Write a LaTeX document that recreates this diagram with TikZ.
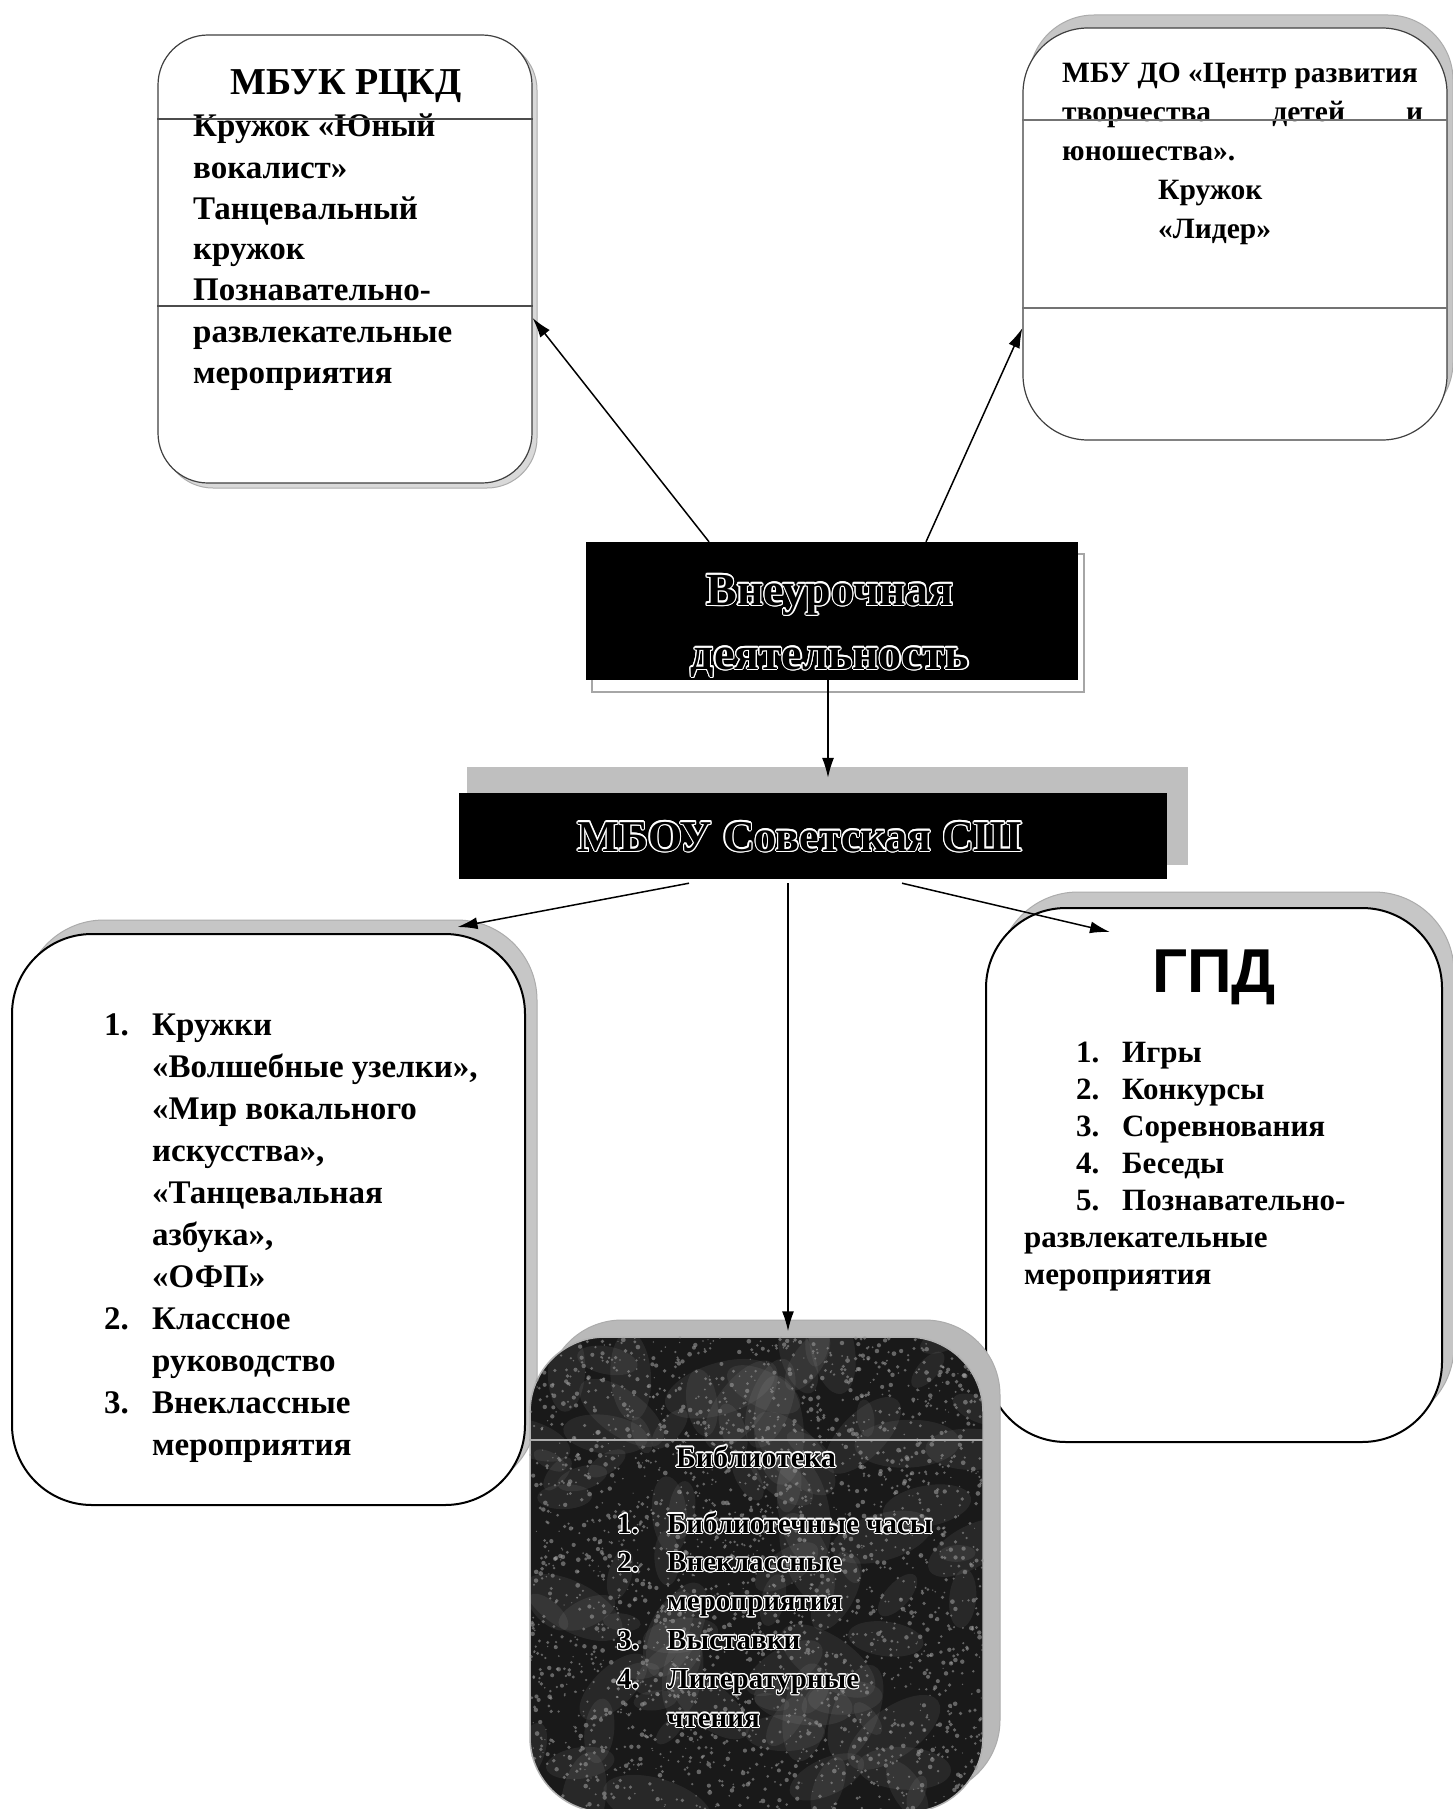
\documentclass[tikz,border=0pt]{standalone}
\usepackage{fontspec}
\setmainfont{Liberation Serif}
\newfontfamily\sansb{Liberation Sans}
\usepackage[copies]{contour}
\contourlength{1.1pt}
\usetikzlibrary{arrows.meta}
\newcommand{\setfs}[2]{\fontsize{#1pt}{#2pt}\selectfont}
\tikzset{
  rbox/.style={draw=black, line width=2pt, fill=white, rounded corners=#1, inner sep=0pt},
  thinbox/.style={draw=black!75, line width=1.2pt, fill=white, rounded corners=#1, inner sep=0pt},
  shbox/.style={fill=gray!45, draw=gray!65, line width=1pt, rounded corners=#1, inner sep=0pt},
  conn/.style={-{Latex[length=20pt,width=12pt]}, line width=1.5pt},
  txt/.style={anchor=base west, inner sep=0pt},
  ctxt/.style={anchor=base, inner sep=0pt},
  sepline/.style={line width=2pt, draw=black!70},
}
\begin{document}
\begin{tikzpicture}[x=1pt, y=-1pt]
\useasboundingbox[fill=white] (0,0) rectangle (1452,1809);

% ---------- Box A: МБУК РЦКД ----------
\node[shbox=50pt, minimum width=374pt, minimum height=448pt, fill=gray!30] (boxAsh) at (350,264) {};
\node[thinbox=50pt, minimum width=374pt, minimum height=448pt] (boxA) at (345,259) {};
\node[ctxt] (tAtitle) at (346,95) {\setfs{38}{44}\bfseries МБУК РЦКД};
\node[txt] (tAbody) at (193,137) {\setfs{33}{41}\bfseries
  \begin{tabular}[t]{@{}l@{}}
  Кружок «Юный\\ вокалист»\\ Танцевальный\\ кружок\\ Познавательно-\\ развлекательные\\ мероприятия
  \end{tabular}};
\coordinate (lA1) at (0,119);
\coordinate (lA2) at (0,306);
\draw[sepline] (boxA.west |- lA1) -- (boxA.east |- lA1);
\draw[sepline] (boxA.west |- lA2) -- (boxA.east |- lA2);

% ---------- Box B: МБУ ДО ----------
\node[shbox=65pt, minimum width=424pt, minimum height=412pt] (boxBsh) at (1241,221) {};
\node[thinbox=65pt, minimum width=424pt, minimum height=412pt] (boxB) at (1235,234) {};
\node[txt] (tBbody) at (1062,83) {\setfs{29.5}{39}\bfseries
  \begin{tabular}[t]{@{}l@{}}
  МБУ ДО «Центр развития\\
  \makebox[361pt][s]{творчества детей и}\\
  юношества».\\
  \hspace*{96pt}Кружок\\
  \hspace*{96pt}«Лидер»
  \end{tabular}};
\coordinate (lB1) at (0,120);
\coordinate (lB2) at (0,308);
\draw[sepline, draw=black!55] (boxB.west |- lB1) -- (boxB.east |- lB1);
\draw[sepline, draw=black!55] (boxB.west |- lB2) -- (boxB.east |- lB2);

% ---------- Внеурочная деятельность ----------
\draw[gray!70, line width=2.5pt] (592,554) rectangle (1084,692);
\node[fill=black, minimum width=492pt, minimum height=138pt, inner sep=0pt] (vne) at (832,611) {};
\node[ctxt] (tvne) at (830,605) {\setfs{46}{64}\bfseries
  \begin{tabular}[t]{@{}c@{}}
  \contour{white}{Внеурочная}\\ \contour{white}{деятельность}
  \end{tabular}};

% ---------- МБОУ Советская СШ ----------
\node[fill=gray!50, minimum width=721pt, minimum height=98pt, inner sep=0pt] (mboush) at (827.5,816) {};
\node[fill=black, minimum width=708pt, minimum height=86pt, inner sep=0pt] (mbou) at (813,836) {};
\node[ctxt] (tmbou) at (800,851) {\setfs{44}{50}\bfseries \contour{white}{МБОУ Советская СШ}};

% ---------- Box C ----------
\node[shbox=80pt, minimum width=513pt, minimum height=571pt] (boxCsh) at (280.5,1205.5) {};
\node[rbox=80pt, minimum width=513pt, minimum height=571pt] (boxC) at (268.5,1219.5) {};
\node[txt] (tCbody) at (104,1035) {\setfs{33}{42}\bfseries
  \begin{tabular}[t]{@{}l@{}}
  \makebox[48pt][l]{1.}Кружки\\
  \hspace*{48pt}«Волшебные узелки»,\\
  \hspace*{48pt}«Мир вокального\\
  \hspace*{48pt}искусства»,\\
  \hspace*{48pt}«Танцевальная\\
  \hspace*{48pt}азбука»,\\
  \hspace*{48pt}«ОФП»\\
  \makebox[48pt][l]{2.}Классное\\
  \hspace*{48pt}руководство\\
  \makebox[48pt][l]{3.}Внеклассные\\
  \hspace*{48pt}мероприятия
  \end{tabular}};

% ---------- Box D: ГПД ----------
\node[shbox=80pt, minimum width=456pt, minimum height=534pt] (boxDsh) at (1226,1159) {};
\node[rbox=80pt, minimum width=456pt, minimum height=534pt] (boxD) at (1214,1175) {};
\node[ctxt] (tDtitle) at (1214,992) {\setfs{62}{70}\sansb\bfseries ГПД};
\node[txt] (tDbody) at (1024,1062) {\setfs{31}{37}\bfseries
  \begin{tabular}[t]{@{}l@{}}
  \hspace*{52pt}\makebox[46pt][l]{1.}Игры\\
  \hspace*{52pt}\makebox[46pt][l]{2.}Конкурсы\\
  \hspace*{52pt}\makebox[46pt][l]{3.}Соревнования\\
  \hspace*{52pt}\makebox[46pt][l]{4.}Беседы\\
  \hspace*{52pt}\makebox[46pt][l]{5.}Познавательно-\\
  развлекательные\\
  мероприятия
  \end{tabular}};

% ---------- Box E: Библиотека ----------
\node[shbox=75pt, minimum width=453pt, minimum height=475pt, fill=gray!55] (boxEsh) at (773.5,1557.5) {};
\node[rbox=75pt, draw=gray!60, line width=1.5pt, fill=black!90, minimum width=453pt, minimum height=475pt] (boxE) at (756.5,1574.5) {};
\begin{scope}
  \clip[rounded corners=75pt] (boxE.south west) rectangle (boxE.north east);
  \pgfmathsetseed{11}
  \foreach \i in {1,...,90} {
    \pgfmathsetmacro{\rx}{530+453*rnd}
    \pgfmathsetmacro{\ry}{1337+475*rnd}
    \pgfmathsetmacro{\rr}{8+18*rnd}
    \pgfmathsetmacro{\ra}{360*rnd}
    \fill[gray!60, opacity=0.1, rotate around={\ra:(\rx,\ry)}] (\rx,\ry) ellipse ({2.2*\rr pt} and {\rr pt});
  }
  \foreach \i in {1,...,2600} {
    \pgfmathsetmacro{\rx}{530+453*rnd}
    \pgfmathsetmacro{\ry}{1337+475*rnd}
    \pgfmathsetmacro{\rr}{0.6+1.8*rnd}
    \fill[gray!80, opacity=0.6] (\rx,\ry) circle (\rr pt);
  }
\end{scope}
\coordinate (lE) at (0,1440);
\draw[gray!65, line width=1.5pt] (boxE.west |- lE) -- (boxE.east |- lE);
\node[ctxt] (tEtitle) at (756,1467) {\setfs{30}{38}\bfseries \contour{white}{Библиотека}};
\node[txt] (tEbody) at (617,1533) {\setfs{29}{38.8}\bfseries
  \begin{tabular}[t]{@{}l@{}}
  \makebox[50pt][l]{\contour{white}{1.}}\contour{white}{Библиотечные часы}\\
  \makebox[50pt][l]{\contour{white}{2.}}\contour{white}{Внеклассные}\\
  \hspace*{50pt}\contour{white}{мероприятия}\\
  \makebox[50pt][l]{\contour{white}{3.}}\contour{white}{Выставки}\\
  \makebox[50pt][l]{\contour{white}{4.}}\contour{white}{Литературные}\\
  \hspace*{50pt}\contour{white}{чтения}
  \end{tabular}};

% ---------- Connectors ----------
\draw[conn] ([xshift=-123pt]vne.north) -- ([yshift=-59pt]boxA.east);
\draw[conn] ([xshift=94pt]vne.north) -- ([yshift=-94pt]boxB.west);
\draw[conn] ([xshift=-4pt]vne.south) -- ([xshift=15pt,yshift=15pt]mbou.north);
\draw[conn] ([xshift=-124pt,yshift=-4pt]mbou.south) -- ([xshift=189pt,yshift=6pt]boxC.north);
\draw[conn] ([xshift=-25pt,yshift=-4pt]mbou.south) -- ([xshift=31.5pt,yshift=5pt]boxE.north);
\draw[conn] ([xshift=89pt,yshift=-4pt]mbou.south) -- ([xshift=-104pt,yshift=-25pt]boxD.north);
\end{tikzpicture}
\end{document}
